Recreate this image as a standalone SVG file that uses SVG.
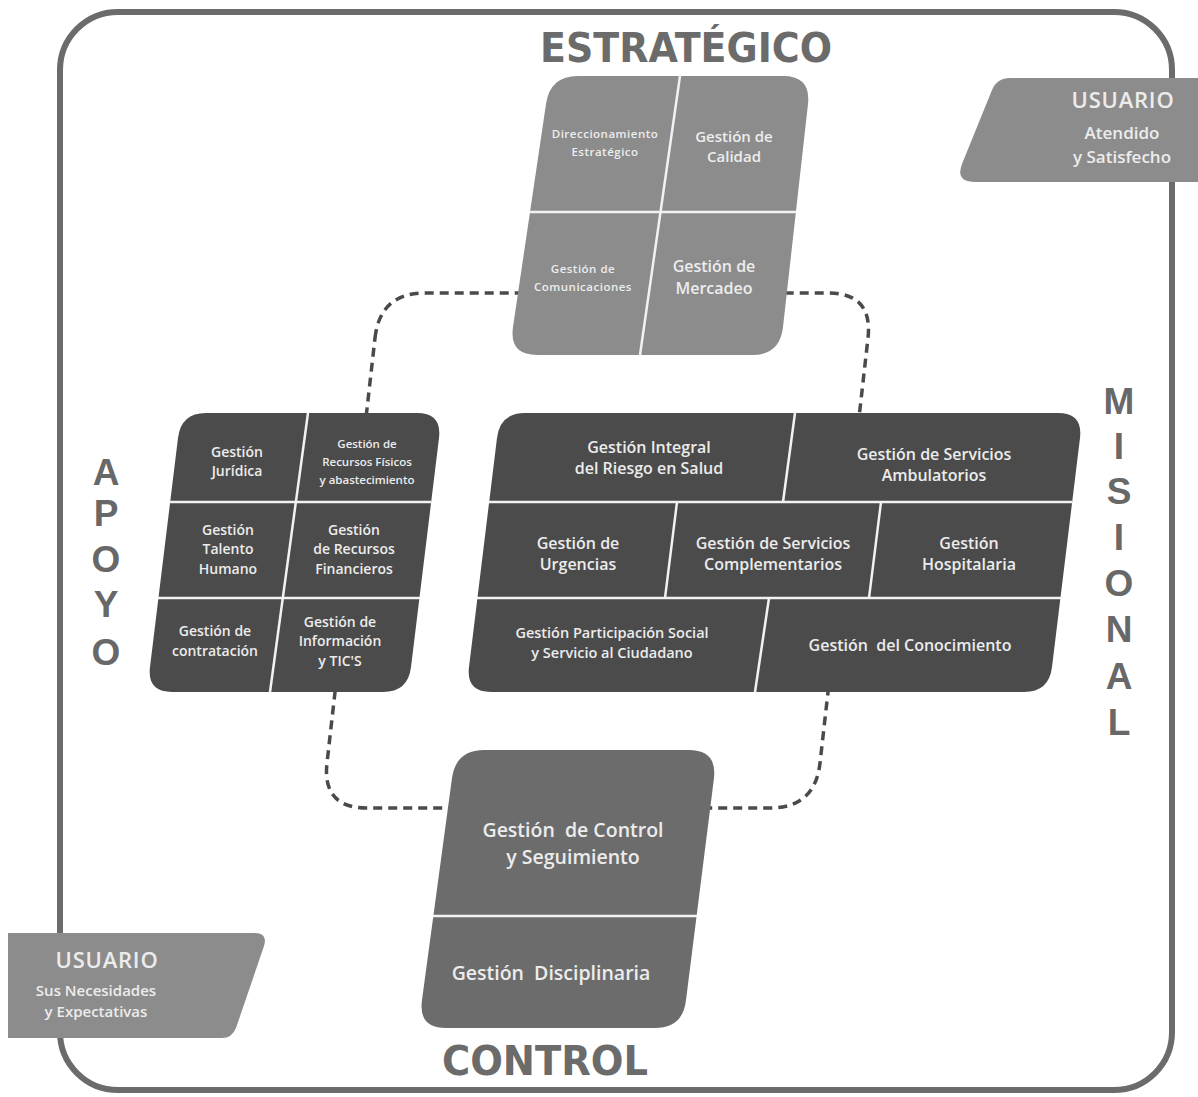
<svg xmlns="http://www.w3.org/2000/svg" width="1198" height="1097" viewBox="0 0 1198 1097">
<style>
.frame{fill:none;stroke:#6b6b6b;stroke-width:6}
.loop{fill:none;stroke:#4a4a4a;stroke-width:3.5;stroke-dasharray:9 6}
.light{fill:#8c8c8c}
.dark{fill:#4b4b4b}
.mid{fill:#6c6c6c}
.div{stroke:#f2f2f2;stroke-width:2.5;fill:none}
.t{font-family:"Open Sans","Noto Sans",sans-serif;font-weight:600;fill:#ececec;text-anchor:middle}
.title{font-family:"DejaVu Sans Condensed","Liberation Sans",sans-serif;font-weight:bold;fill:#6b6b6b}
.side{font-family:"Liberation Sans",Arial,sans-serif;font-weight:bold;fill:#686868;text-anchor:middle;font-size:37px}
</style>

<rect class="frame" x="60" y="12" width="1112" height="1078" rx="58"/>

<g id="connectors">
<path class="loop" d="M 375,338 Q 380,293 425,293 L 828,293 Q 873,293 868,338 L 820,763 Q 815,808 770,808 L 367,808 Q 322,808 327,763 Z"/>
</g>

<text class="title" x="540" y="62" font-size="40" textLength="292" lengthAdjust="spacingAndGlyphs">ESTRATÉGICO</text>
<text class="title" x="442" y="1075" font-size="40" textLength="206" lengthAdjust="spacingAndGlyphs">CONTROL</text>

<g id="apoyo-label">
<text class="side" x="106" y="485">A</text>
<text class="side" x="106" y="526">P</text>
<text class="side" x="106" y="572">O</text>
<text class="side" x="106" y="617">Y</text>
<text class="side" x="106" y="665">O</text>
</g>
<g id="misional-label">
<text class="side" x="1119" y="414">M</text>
<text class="side" x="1119" y="459">I</text>
<text class="side" x="1119" y="504">S</text>
<text class="side" x="1119" y="550">I</text>
<text class="side" x="1119" y="596">O</text>
<text class="side" x="1119" y="642">N</text>
<text class="side" x="1119" y="689">A</text>
<text class="side" x="1119" y="735">L</text>
</g>

<g id="estrategico">
<path class="light" d="M 578,76 L 783,76 Q 811,76 808,104 L 783,327 Q 780,355 752,355 L 537,355 Q 509,355 513,327 L 546,104 Q 550,76 578,76 Z"/>
<line class="div" x1="530" y1="212" x2="796" y2="212"/>
<line class="div" x1="680" y1="76" x2="640" y2="355"/>
<text class="t" font-size="11.5" letter-spacing="0.5"><tspan x="605" y="138">Direccionamiento</tspan><tspan x="605" y="156">Estratégico</tspan></text>
<text class="t" font-size="15"><tspan x="734" y="142">Gestión de</tspan><tspan x="734" y="162">Calidad</tspan></text>
<text class="t" font-size="11.5" letter-spacing="0.5"><tspan x="583" y="273">Gestión de</tspan><tspan x="583" y="291">Comunicaciones</tspan></text>
<text class="t" font-size="16"><tspan x="714" y="272">Gestión de</tspan><tspan x="714" y="294">Mercadeo</tspan></text>
</g>

<g id="usuario-atendido">
<path class="light" d="M 1198,78 L 1010,78 Q 997,78 992,90 L 962,164 Q 955,182 975,182 L 1198,182 Z"/>
<text class="t" font-size="22" letter-spacing="0.8" x="1123" y="108">USUARIO</text>
<text class="t" font-size="17"><tspan x="1122" y="139">Atendido</tspan><tspan x="1122" y="163">y Satisfecho</tspan></text>
</g>

<g id="apoyo">
<path class="dark" d="M 206,413 L 417,413 Q 442,413 439,438 L 411,667 Q 408,692 383,692 L 172,692 Q 147,692 150,667 L 178,438 Q 181,413 206,413 Z"/>
<line class="div" x1="170" y1="502" x2="431" y2="502"/>
<line class="div" x1="158" y1="598" x2="420" y2="598"/>
<line class="div" x1="308" y1="413" x2="270" y2="692"/>
<text class="t" font-size="14"><tspan x="237" y="457">Gestión</tspan><tspan x="237" y="476">Jurídica</tspan></text>
<text class="t" font-size="11.5"><tspan x="367" y="448">Gestión de</tspan><tspan x="367" y="466">Recursos Físicos</tspan><tspan x="367" y="484">y abastecimiento</tspan></text>
<text class="t" font-size="14"><tspan x="228" y="535">Gestión</tspan><tspan x="228" y="554">Talento</tspan><tspan x="228" y="574">Humano</tspan></text>
<text class="t" font-size="14"><tspan x="354" y="535">Gestión</tspan><tspan x="354" y="554">de Recursos</tspan><tspan x="354" y="574">Financieros</tspan></text>
<text class="t" font-size="14"><tspan x="215" y="636">Gestión de</tspan><tspan x="215" y="656">contratación</tspan></text>
<text class="t" font-size="14"><tspan x="340" y="627">Gestión de</tspan><tspan x="340" y="646">Información</tspan><tspan x="340" y="666">y TIC'S</tspan></text>
</g>

<g id="misional">
<path class="dark" d="M 525,413 L 1058,413 Q 1083,413 1080,438 L 1052,667 Q 1049,692 1024,692 L 491,692 Q 466,692 469,667 L 497,438 Q 500,413 525,413 Z"/>
<line class="div" x1="489" y1="502" x2="1072" y2="502"/>
<line class="div" x1="477" y1="598" x2="1061" y2="598"/>
<line class="div" x1="795" y1="413" x2="783" y2="502"/>
<line class="div" x1="677" y1="502" x2="665" y2="598"/>
<line class="div" x1="881" y1="502" x2="869" y2="598"/>
<line class="div" x1="769" y1="598" x2="755" y2="692"/>
<text class="t" font-size="16"><tspan x="649" y="453">Gestión Integral</tspan><tspan x="649" y="474">del Riesgo en Salud</tspan></text>
<text class="t" font-size="16"><tspan x="934" y="460">Gestión de Servicios</tspan><tspan x="934" y="481">Ambulatorios</tspan></text>
<text class="t" font-size="16"><tspan x="578" y="549">Gestión de</tspan><tspan x="578" y="570">Urgencias</tspan></text>
<text class="t" font-size="16"><tspan x="773" y="549">Gestión de Servicios</tspan><tspan x="773" y="570">Complementarios</tspan></text>
<text class="t" font-size="16"><tspan x="969" y="549">Gestión</tspan><tspan x="969" y="570">Hospitalaria</tspan></text>
<text class="t" font-size="14.5"><tspan x="612" y="638">Gestión Participación Social</tspan><tspan x="612" y="658">y Servicio al Ciudadano</tspan></text>
<text class="t" font-size="16" x="910" y="651" xml:space="preserve">Gestión  del Conocimiento</text>
</g>

<g id="control">
<path class="mid" d="M 484,750 L 689,750 Q 717,750 714,778 L 686,1000 Q 683,1028 655,1028 L 446,1028 Q 418,1028 422,1000 L 452,778 Q 456,750 484,750 Z"/>
<line class="div" x1="433" y1="916" x2="697" y2="916"/>
<text class="t" font-size="19.5" xml:space="preserve"><tspan x="573" y="837">Gestión  de Control</tspan><tspan x="573" y="864">y Seguimiento</tspan></text>
<text class="t" font-size="19.5" x="551" y="980" xml:space="preserve">Gestión  Disciplinaria</text>
</g>

<g id="usuario-necesidades">
<path class="light" d="M 8,933 L 255,933 Q 268,933 264,946 L 236,1028 Q 232,1038 222,1038 L 8,1038 Z"/>
<text class="t" font-size="22" letter-spacing="0.8" x="107" y="968">USUARIO</text>
<text class="t" font-size="15"><tspan x="96" y="996">Sus Necesidades</tspan><tspan x="96" y="1017">y Expectativas</tspan></text>
</g>
</svg>
